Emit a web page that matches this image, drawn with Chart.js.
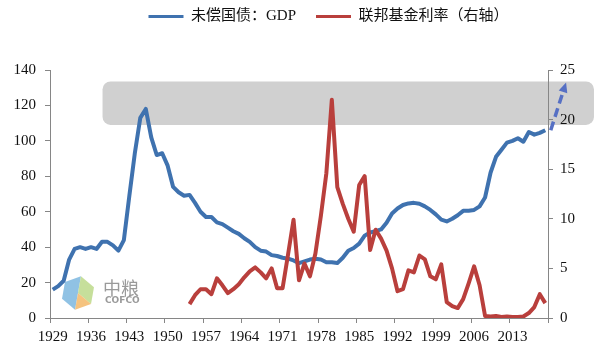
<!DOCTYPE html>
<html>
<head>
<meta charset="utf-8">
<script src="https://cdn.jsdelivr.net/npm/chart.js@4/dist/chart.umd.min.js"></script>
<style>
html,body{margin:0;padding:0;background:#ffffff;}
#wrap{width:597px;height:355px;position:relative;}
</style>
</head>
<body>
<div id="wrap"><canvas id="c" width="597" height="355"></canvas></div>
<script>
// ---- categories ----
const years = [];
for (let y = 1929; y <= 2019; y++) years.push(String(y));

// ---- tick labels ----
const tickLabels = ['1929','1936','1943','1950','1957','1964','1971','1978','1985','1992','1999','2006','2013'];
const leftAxisTicks = [0, 20, 40, 60, 80, 100, 120, 140];
const rightAxisTicks = [0, 5, 10, 15, 20, 25];

// ---- series names ----
const seriesNames = ['未偿国债：GDP', '联邦基金利率（右轴）'];

// ---- series values (1929-2019) ----
const debtToGdp = [
  16, 18, 21, 33, 39, 40, 39, 40, 39, 43,
  43, 41, 38, 44, 69, 93, 113, 118, 102, 92,
  93, 86, 74, 71, 69, 69.5, 65, 60, 57, 57,
  54, 53, 51, 49, 47.5, 45, 43, 40, 38, 37.5,
  35.5, 35, 34, 33.5, 32.5, 31, 32, 33, 33.5, 33,
  31.5, 31.5, 31, 34, 38, 39.5, 42, 46.5, 48.3, 49,
  50, 53.8, 59, 61.8, 63.8, 64.7, 65, 64.5, 63, 61,
  58.5, 55.5, 54.5, 56, 58, 60.5, 60.6, 61, 63, 68,
  82, 91, 95, 99, 100, 101.5, 99.5, 105, 103.5, 104.5,
  106
];
const fedFundsRate = [
  null, null, null, null, null, null, null, null, null, null,
  null, null, null, null, null, null, null, null, null, null,
  null, null, null, null, null,
  1.4, 2.3, 2.9, 2.9, 2.4, 4.0, 3.3, 2.5, 2.9, 3.4,
  4.1, 4.7, 5.1, 4.6, 4.0, 5.0, 3.0, 3.0, 6.4, 9.9,
  3.8, 5.5, 4.2, 6.5, 10.3, 14.6, 22, 13.2, 11.5, 10,
  8.7, 13.4, 14.3, 6.85, 8.9, 8.0, 6.8, 5.0, 2.7, 2.9,
  4.8, 4.6, 6.3, 5.9, 4.2, 3.9, 5.4, 1.6, 1.2, 1.0,
  1.9, 3.5, 5.2, 3.3, 0.2, 0.15, 0.2, 0.1, 0.15, 0.1,
  0.1, 0.15, 0.5, 1.1, 2.4, 1.5
];

// ---- annotations, in data units (category index / left-axis value) ----
const bandIndexRange = [9.1, 98.9];
const bandValueRange = [109, 133.5];
const projectionIndex = [91, 93.8];
const projectionValue = [106, 133];

const BLUE = '#3f72af';
const RED = '#b93f3c';
const ARROW = '#5670c4';
const AXIS = '#868686';
const TEXT = '#111111';
const FONT = "'Liberation Serif', 'Times New Roman', 'Noto Sans CJK SC', serif";

const decorPlugin = {
  id: 'decor',
  beforeDraw(chart) {
    const ctx = chart.ctx;
    const xs = chart.scales.x, ys = chart.scales.y;
    // gray highlight band
    const bx0 = xs.getPixelForValue(bandIndexRange[0]);
    const bx1 = xs.getPixelForValue(bandIndexRange[1]);
    const by0 = ys.getPixelForValue(bandValueRange[1]);
    const by1 = ys.getPixelForValue(bandValueRange[0]);
    ctx.save();
    ctx.fillStyle = '#d0d0d0';
    ctx.beginPath();
    ctx.roundRect(bx0, by0, bx1 - bx0, by1 - by0, 8);
    ctx.fill();
    ctx.restore();

    // COFCO watermark logo
    ctx.save();
    ctx.globalAlpha = 0.85;
    const cx = 78, cy = 293, r = 17;
    const pts = [];
    for (let k = 0; k < 6; k++) {
      const a = Math.PI / 180 * (60 * k - 90 + 10);
      pts.push([cx + r * Math.cos(a), cy + r * Math.sin(a)]);
    }
    ctx.lineJoin = 'round';
    ctx.fillStyle = '#7db7df';
    ctx.beginPath();
    ctx.moveTo(cx, cy);
    ctx.lineTo(pts[3][0], pts[3][1]); ctx.lineTo(pts[4][0], pts[4][1]); ctx.lineTo(pts[5][0], pts[5][1]); ctx.lineTo(pts[0][0], pts[0][1]);
    ctx.closePath(); ctx.fill();
    ctx.fillStyle = '#bcd98a';
    ctx.beginPath();
    ctx.moveTo(cx, cy);
    ctx.lineTo(pts[0][0], pts[0][1]); ctx.lineTo(pts[1][0], pts[1][1]); ctx.lineTo(pts[2][0], pts[2][1]);
    ctx.closePath(); ctx.fill();
    ctx.fillStyle = '#f3b868';
    ctx.beginPath();
    ctx.moveTo(cx, cy);
    ctx.lineTo(pts[2][0], pts[2][1]); ctx.lineTo(pts[3][0], pts[3][1]);
    ctx.closePath(); ctx.fill();
    ctx.globalAlpha = 1;
    ctx.fillStyle = '#9a9a9a';
    ctx.font = "18px 'Noto Sans CJK SC'";
    ctx.textBaseline = 'middle';
    ctx.fillText('中粮', 103, 288);
    ctx.font = "bold 9px 'DejaVu Sans'";
    ctx.fillText('COFCO', 105, 301);
    ctx.restore();
  },
  afterDatasetsDraw(chart) {
    const ctx = chart.ctx;
    const xs = chart.scales.x, ys = chart.scales.y;
    const x0 = xs.getPixelForValue(projectionIndex[0]);
    const y0 = ys.getPixelForValue(projectionValue[0]);
    const x1 = xs.getPixelForValue(projectionIndex[1]);
    const y1 = ys.getPixelForValue(projectionValue[1]);
    const ang = Math.atan2(y1 - y0, x1 - x0);
    const hl = 10, hw = 4.5;
    ctx.save();
    ctx.strokeStyle = ARROW;
    ctx.fillStyle = ARROW;
    ctx.lineWidth = 3.5;
    ctx.setLineDash([9, 5]);
    ctx.beginPath();
    ctx.moveTo(x0, y0);
    ctx.lineTo(x1 - hl * Math.cos(ang), y1 - hl * Math.sin(ang));
    ctx.stroke();
    ctx.setLineDash([]);
    const bx = x1 - hl * Math.cos(ang), by = y1 - hl * Math.sin(ang);
    ctx.beginPath();
    ctx.moveTo(x1, y1);
    ctx.lineTo(bx + hw * Math.sin(ang), by - hw * Math.cos(ang));
    ctx.lineTo(bx - hw * Math.sin(ang), by + hw * Math.cos(ang));
    ctx.closePath();
    ctx.fill();
    ctx.restore();
  }
};

const legendPlace = {
  id: 'legendPlace',
  beforeLayout(chart) {
    const lg = chart.legend;
    if (lg && !lg._fitPatched) {
      const fit = lg.fit;
      lg.fit = function () { fit.call(this); this.height = 70; };
      lg._fitPatched = true;
    }
  },
  afterLayout(chart) {
    const lg = chart.legend;
    const dx = 30, dy = -11;
    lg.left += dx; lg.right += dx; lg.top += dy; lg.bottom += dy;
  }
};

const tickShown = (ctx) => ctx.index === undefined || tickLabels.includes(years[ctx.index]);

new Chart(document.getElementById('c'), {
  type: 'line',
  data: {
    labels: years,
    datasets: [
      { label: seriesNames[0], data: debtToGdp, yAxisID: 'y', borderColor: BLUE, backgroundColor: BLUE,
        borderWidth: 4, pointRadius: 0, tension: 0, order: 1, borderJoinStyle: 'round' },
      { label: seriesNames[1], data: fedFundsRate, yAxisID: 'y1', borderColor: RED, backgroundColor: RED,
        borderWidth: 4, pointRadius: 0, tension: 0, order: 0, borderJoinStyle: 'round' }
    ]
  },
  options: {
    responsive: false,
    animation: false,
    devicePixelRatio: 1,
    layout: { padding: 0 },
    plugins: {
      tooltip: { enabled: false },
      legend: {
        display: true,
        position: 'top',
        labels: {
          boxWidth: 35, boxHeight: 3, padding: 20,
          color: TEXT,
          font: { family: FONT, size: 15 },
          generateLabels(chart) {
            return chart.data.datasets.map((ds, i) => ({
              text: ds.label, fillStyle: ds.borderColor, strokeStyle: ds.borderColor,
              lineWidth: 0, hidden: false, datasetIndex: i, fontColor: TEXT
            }));
          }
        }
      }
    },
    scales: {
      x: {
        type: 'category',
        offset: true,
        grid: { offset: true, drawOnChartArea: false, drawTicks: true, tickLength: 5,
                color: (c) => tickShown(c) ? AXIS : 'rgba(0,0,0,0)',
                tickColor: (c) => tickShown(c) ? AXIS : 'rgba(0,0,0,0)' },
        border: { display: true, color: AXIS, width: 1 },
        ticks: {
          autoSkip: false, maxRotation: 0, minRotation: 0, padding: 5,
          color: TEXT, font: { family: FONT, size: 15 },
          callback(v, i) { const l = years[i]; return tickLabels.includes(l) ? l : ''; }
        },
        afterFit(s) { s.height = 37; }
      },
      y: {
        position: 'left',
        min: leftAxisTicks[0], max: leftAxisTicks[leftAxisTicks.length - 1],
        grid: { drawOnChartArea: false, tickLength: 5, color: AXIS },
        border: { display: true, color: AXIS, width: 1 },
        ticks: { stepSize: leftAxisTicks[1] - leftAxisTicks[0], padding: 9, color: TEXT, font: { family: FONT, size: 15 } },
        afterFit(s) { s.width = 50; }
      },
      y1: {
        position: 'right',
        min: rightAxisTicks[0], max: rightAxisTicks[rightAxisTicks.length - 1],
        grid: { drawOnChartArea: false, tickLength: 5, color: AXIS },
        border: { display: true, color: AXIS, width: 1 },
        ticks: { stepSize: rightAxisTicks[1] - rightAxisTicks[0], padding: 7, color: TEXT, font: { family: FONT, size: 15 } },
        afterFit(s) { s.width = 49; }
      }
    }
  },
  plugins: [decorPlugin, legendPlace]
});
</script>
</body>
</html>
